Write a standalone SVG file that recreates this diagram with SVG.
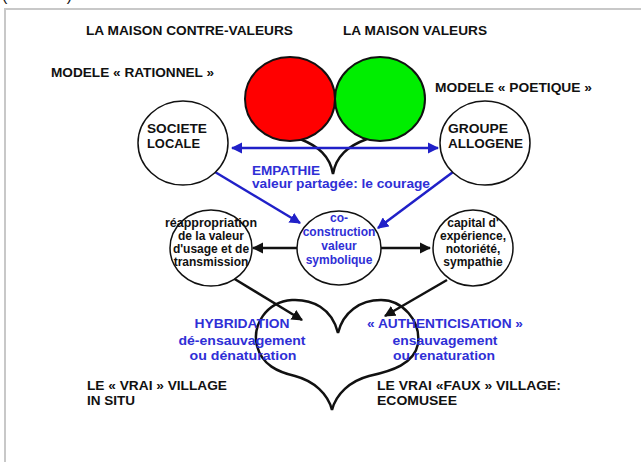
<svg xmlns="http://www.w3.org/2000/svg" width="641" height="462" viewBox="0 0 641 462">
<style>
text{font-family:"Liberation Sans",Arial,sans-serif;font-weight:bold;font-size:12px;fill:#111}
.b{fill:#2f2fd6}
.c{text-anchor:middle}
.node{fill:#fff;stroke:#111;stroke-width:1.5}
.blue{stroke:#2020c8;stroke-width:2.5;fill:none}
.blk{stroke:#111;stroke-width:2.5;fill:none}
</style>
<defs>
<marker id="ab" viewBox="0 0 10 10" refX="9" refY="5" markerWidth="4.5" markerHeight="4.5" orient="auto-start-reverse" markerUnits="strokeWidth"><path d="M0,0 L10,5 L0,10 z" fill="#2020c8"/></marker>
<marker id="ak" viewBox="0 0 10 10" refX="9" refY="5" markerWidth="4.5" markerHeight="4.5" orient="auto-start-reverse" markerUnits="strokeWidth"><path d="M0,0 L10,5 L0,10 z" fill="#111"/></marker>
</defs>
<rect width="641" height="462" fill="#fff"/>
<g id="frame">
<path d="M5,462 V9 H641" stroke="#c8c8c8" stroke-width="2" fill="none"/>
<text x="2" y="1" style="font-weight:normal;font-size:16px" textLength="70" lengthAdjust="spacing">(           )</text>
</g>
<g id="titles">
<text x="86" y="35" textLength="207" lengthAdjust="spacingAndGlyphs">LA MAISON CONTRE-VALEURS</text>
<text x="343" y="35" textLength="144" lengthAdjust="spacingAndGlyphs">LA MAISON VALEURS</text>
<text x="51" y="77" textLength="163" lengthAdjust="spacingAndGlyphs">MODELE « RATIONNEL »</text>
<text x="435" y="92" textLength="157" lengthAdjust="spacingAndGlyphs">MODELE « POETIQUE »</text>
</g>
<g id="small-heart">
<path class="blk" d="M300,139 C318,146 330,156 333,174 C336,156 348,146 367,139" stroke-width="2"/>
</g>
<g id="maison-contre-valeurs"><ellipse cx="290" cy="99" rx="45" ry="42" fill="#ff0000" stroke="#111" stroke-width="2"/></g>
<g id="maison-valeurs"><ellipse cx="380" cy="99" rx="45" ry="42" fill="#00ee00" stroke="#111" stroke-width="2"/></g>
<g id="big-heart">
<path class="blk" d="M338,333 C332,308 312,299 292,300 C266,302 252,325 257,346 C262,365 278,372 295,376 C314,381 328,394 332,410 C336,394 350,381 369,376 C392,371 414,364 418,344 C421,320 402,300 381,300 C360,300 343,312 338,333 Z"/>
</g>
<g id="connectors">
<line class="blue" x1="232" y1="148" x2="438" y2="148" marker-start="url(#ab)" marker-end="url(#ab)"/>
<line class="blue" x1="215" y1="172" x2="300" y2="223" marker-end="url(#ab)"/>
<line class="blue" x1="453" y1="172" x2="378" y2="228" marker-end="url(#ab)"/>
<line class="blk" x1="297" y1="248" x2="253" y2="248" marker-end="url(#ak)"/>
<line class="blk" x1="380" y1="248" x2="430" y2="248" marker-end="url(#ak)"/>
<line class="blk" x1="233" y1="278" x2="302" y2="320" marker-end="url(#ak)"/>
<line class="blk" x1="447" y1="280" x2="385" y2="316" marker-end="url(#ak)"/>
</g>
<g id="societe-locale">
<ellipse class="node" cx="183" cy="143" rx="45" ry="42"/>
<text x="147" y="133" textLength="60" lengthAdjust="spacingAndGlyphs">SOCIETE</text>
<text x="147" y="148" textLength="53" lengthAdjust="spacingAndGlyphs">LOCALE</text>
</g>
<g id="groupe-allogene">
<ellipse class="node" cx="485" cy="143" rx="45" ry="42"/>
<text x="448" y="133" textLength="60" lengthAdjust="spacingAndGlyphs">GROUPE</text>
<text x="448" y="148" textLength="75" lengthAdjust="spacingAndGlyphs">ALLOGENE</text>
</g>
<g id="empathie">
<text class="b" x="252" y="175" textLength="68" lengthAdjust="spacingAndGlyphs">EMPATHIE</text>
<text class="b" x="252" y="188" textLength="178" lengthAdjust="spacingAndGlyphs">valeur partagée: le courage</text>
</g>
<g id="reappropriation">
<ellipse class="node" cx="211" cy="248" rx="41" ry="38"/>
<text class="c" x="211" y="227" textLength="92" lengthAdjust="spacingAndGlyphs">réappropriation</text>
<text class="c" x="211" y="240">de la valeur</text>
<text class="c" x="211" y="253">d'usage et de</text>
<text class="c" x="211" y="266">transmission</text>
</g>
<g id="co-construction">
<ellipse class="node" cx="339" cy="248" rx="42" ry="37" stroke-width="2.2"/>
<text class="c b" x="339" y="222">co-</text>
<text class="c b" x="339" y="236">construction</text>
<text class="c b" x="339" y="250">valeur</text>
<text class="c b" x="339" y="264">symbolique</text>
</g>
<g id="capital">
<ellipse class="node" cx="473" cy="248" rx="40" ry="38"/>
<text class="c" x="473" y="227">capital d'</text>
<text class="c" x="473" y="240">expérience,</text>
<text class="c" x="473" y="253">notoriété,</text>
<text class="c" x="473" y="266">sympathie</text>
</g>
<g id="hybridation">
<text class="c b" x="242" y="328" textLength="95" lengthAdjust="spacingAndGlyphs">HYBRIDATION</text>
<text class="c b" x="242" y="345" textLength="127" lengthAdjust="spacingAndGlyphs">dé-ensauvagement</text>
<text class="c b" x="243" y="360" textLength="107" lengthAdjust="spacingAndGlyphs">ou dénaturation</text>
</g>
<g id="authenticisation">
<text class="c b" x="445" y="328" textLength="156" lengthAdjust="spacingAndGlyphs">« AUTHENTICISATION »</text>
<text class="c b" x="445" y="345" textLength="105" lengthAdjust="spacingAndGlyphs">ensauvagement</text>
<text class="c b" x="444" y="360" textLength="102" lengthAdjust="spacingAndGlyphs">ou renaturation</text>
</g>
<g id="villages">
<text x="87" y="390" textLength="140" lengthAdjust="spacingAndGlyphs">LE « VRAI » VILLAGE</text>
<text x="87" y="405" textLength="48" lengthAdjust="spacingAndGlyphs">IN SITU</text>
<text x="377" y="390" textLength="184" lengthAdjust="spacingAndGlyphs">LE VRAI «FAUX » VILLAGE:</text>
<text x="377" y="405" textLength="80" lengthAdjust="spacingAndGlyphs">ECOMUSEE</text>
</g>
</svg>
